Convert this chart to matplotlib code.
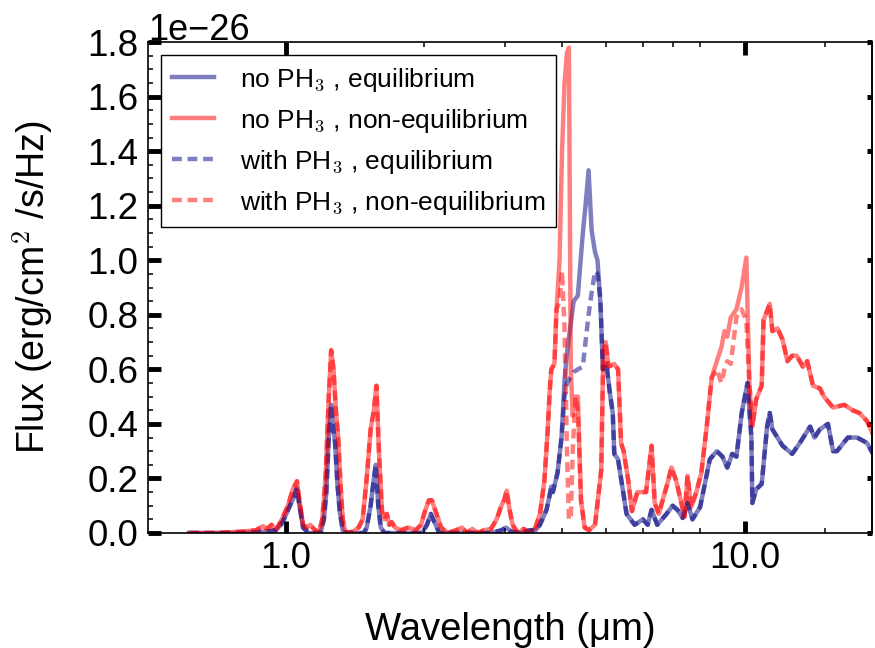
import matplotlib
matplotlib.use('Agg')
import matplotlib.pyplot as plt
import numpy as np
from matplotlib.ticker import FixedLocator, FormatStrFormatter, MultipleLocator, NullFormatter, NullLocator

plt.rcParams['font.family'] = ['Liberation Sans', 'DejaVu Sans']
plt.rcParams['mathtext.fontset'] = 'cm'

# wavelength grid (um) for the red (non-equilibrium) spectra
wl_red = [0.615, 0.70, 0.80, 0.86, 0.89, 0.91, 0.93, 0.95, 0.98, 1.01, 1.035, 1.057, 1.07, 1.09,
          1.11, 1.13, 1.15, 1.18, 1.20, 1.22, 1.24, 1.255, 1.27, 1.285, 1.30, 1.315, 1.33, 1.35,
          1.40, 1.44, 1.47, 1.50, 1.53, 1.555, 1.575, 1.595, 1.62, 1.64, 1.66, 1.68, 1.70, 1.73,
          1.78, 1.85, 1.92, 1.97, 2.01, 2.05, 2.08, 2.13, 2.18, 2.25, 2.35, 2.42, 2.48, 2.55,
          2.62, 2.70, 2.80, 2.88, 2.95, 2.99, 3.03, 3.07, 3.12, 3.20, 3.30, 3.40, 3.50, 3.58,
          3.66, 3.72, 3.76, 3.79, 3.85, 3.89, 3.95, 4.00, 4.05, 4.10, 4.14, 4.18, 4.22, 4.28,
          4.33, 4.40, 4.48, 4.58, 4.72, 4.87, 4.92, 4.98, 5.05, 5.20, 5.30, 5.38, 5.45, 5.58,
          5.68, 5.84, 6.10, 6.27, 6.37, 6.50, 6.76, 6.93, 7.10, 7.28, 7.40, 7.51, 7.65, 7.85,
          8.05, 8.27, 8.48, 8.70, 8.90, 9.04, 9.17, 9.33, 9.60, 9.85, 10.09, 10.25, 10.40, 10.60,
          10.90, 11.00, 11.35, 11.50, 11.80, 12.10, 12.40, 12.70, 13.00, 13.40, 13.70, 14.10,
          14.60, 14.90, 15.60, 16.50, 17.20, 17.80, 18.50, 19.20, 20.00]

# no PH3, non-equilibrium (units of 1e-26 erg/cm2/s/Hz)
flux_noph3_neq = [0.0, 0.0, 0.005, 0.01, 0.025, 0.015, 0.03, 0.01, 0.05, 0.10, 0.16, 0.19, 0.12, 0.03,
                  0.02, 0.03, 0.015, 0.0, 0.05, 0.20, 0.50, 0.67, 0.60, 0.45, 0.35, 0.18, 0.05, 0.0,
                  0.005, 0.02, 0.05, 0.20, 0.38, 0.45, 0.54, 0.30, 0.08, 0.05, 0.07, 0.03, 0.04, 0.02,
                  0.01, 0.02, 0.01, 0.03, 0.08, 0.12, 0.12, 0.07, 0.02, 0.0, 0.01, 0.02, 0.0, 0.015,
                  0.0, 0.01, 0.015, 0.05, 0.10, 0.12, 0.155, 0.09, 0.03, 0.0, 0.015, 0.0, 0.02, 0.07,
                  0.19, 0.37, 0.52, 0.60, 0.62, 0.82, 1.00, 1.40, 1.65, 1.76, 1.78, 0.60, 0.43, 0.50,
                  0.50, 0.12, 0.02, 0.01, 0.03, 0.23, 0.66, 0.70, 0.61, 0.62, 0.60, 0.33, 0.30, 0.19,
                  0.08, 0.15, 0.15, 0.32, 0.11, 0.07, 0.17, 0.24, 0.19, 0.11, 0.06, 0.21, 0.095, 0.15,
                  0.22, 0.39, 0.57, 0.63, 0.68, 0.74, 0.72, 0.79, 0.82, 0.90, 1.01, 0.54, 0.39, 0.49,
                  0.54, 0.78, 0.84, 0.74, 0.75, 0.71, 0.63, 0.65, 0.65, 0.61, 0.63, 0.54,
                  0.53, 0.50, 0.46, 0.47, 0.45, 0.44, 0.41, 0.35, 0.30]

# with PH3, non-equilibrium
flux_ph3_neq = [0.0, 0.0, 0.005, 0.01, 0.025, 0.015, 0.03, 0.01, 0.05, 0.10, 0.16, 0.19, 0.12, 0.03,
                0.02, 0.03, 0.015, 0.0, 0.05, 0.20, 0.50, 0.67, 0.60, 0.45, 0.35, 0.18, 0.05, 0.0,
                0.005, 0.02, 0.05, 0.20, 0.38, 0.45, 0.54, 0.30, 0.08, 0.05, 0.07, 0.03, 0.04, 0.02,
                0.01, 0.02, 0.01, 0.03, 0.08, 0.12, 0.12, 0.07, 0.02, 0.0, 0.01, 0.02, 0.0, 0.015,
                0.0, 0.01, 0.015, 0.05, 0.10, 0.12, 0.155, 0.09, 0.03, 0.0, 0.015, 0.0, 0.02, 0.07,
                0.19, 0.37, 0.52, 0.60, 0.62, 0.82, 0.85, 0.96, 0.75, 0.30, 0.05, 0.05, 0.30, 0.50,
                0.45, 0.12, 0.02, 0.01, 0.03, 0.23, 0.66, 0.70, 0.61, 0.62, 0.60, 0.33, 0.30, 0.19,
                0.08, 0.15, 0.15, 0.32, 0.11, 0.07, 0.17, 0.24, 0.19, 0.11, 0.06, 0.21, 0.095, 0.15,
                0.22, 0.39, 0.57, 0.60, 0.55, 0.60, 0.63, 0.62, 0.79, 0.82, 0.78, 0.54, 0.39, 0.49,
                0.54, 0.78, 0.84, 0.74, 0.75, 0.71, 0.63, 0.65, 0.65, 0.61, 0.63, 0.54,
                0.53, 0.50, 0.46, 0.47, 0.45, 0.44, 0.41, 0.35, 0.30]

# wavelength grid (um) for the blue (equilibrium) spectra
wl_blue = [0.615, 0.80, 0.90, 0.95, 0.975, 0.99, 1.02, 1.04, 1.057, 1.07, 1.09, 1.12, 1.19, 1.21,
           1.225, 1.24, 1.255, 1.265, 1.28, 1.295, 1.31, 1.33, 1.35, 1.48, 1.50, 1.53, 1.555, 1.57,
           1.59, 1.61, 1.64, 1.98, 2.03, 2.07, 2.12, 2.16, 2.80, 2.95, 3.02, 3.10, 3.25, 3.40,
           3.50, 3.58, 3.70, 3.75, 3.79, 3.82, 3.91, 3.99, 4.05, 4.10, 4.24, 4.33, 4.44, 4.50,
           4.57, 4.64, 4.72, 4.78, 4.85, 4.91, 5.00, 5.08, 5.16, 5.20, 5.30, 5.53, 5.76, 6.00,
           6.15, 6.27, 6.45, 6.76, 6.97, 7.14, 7.33, 7.51, 7.70, 8.00, 8.17, 8.40, 8.70, 8.95,
           9.17, 9.40, 9.60, 9.86, 10.15, 10.35, 10.40, 10.60, 10.90, 11.20, 11.35, 11.50, 12.10,
           12.70, 13.20, 13.90, 14.20, 14.60, 15.20, 15.60, 15.90, 16.80, 17.60, 18.50, 19.20, 20.00]

# no PH3, equilibrium
flux_noph3_eq = [0.0, 0.0, 0.005, 0.01, 0.03, 0.05, 0.10, 0.13, 0.165, 0.10, 0.02, 0.0, 0.0, 0.05,
                 0.15, 0.35, 0.47, 0.40, 0.33, 0.18, 0.08, 0.01, 0.0, 0.0, 0.02, 0.10, 0.20, 0.25,
                 0.10, 0.02, 0.0, 0.0, 0.03, 0.07, 0.03, 0.0, 0.0, 0.01, 0.02, 0.005, 0.0, 0.01,
                 0.01, 0.03, 0.085, 0.13, 0.17, 0.15, 0.22, 0.35, 0.56, 0.66, 0.85, 0.87, 1.10, 1.20,
                 1.33, 1.11, 1.03, 1.00, 0.84, 0.60, 0.62, 0.52, 0.44, 0.29, 0.27, 0.07, 0.03, 0.05,
                 0.03, 0.085, 0.03, 0.07, 0.10, 0.085, 0.055, 0.11, 0.05, 0.095, 0.17, 0.27, 0.30, 0.28,
                 0.24, 0.29, 0.28, 0.44, 0.55, 0.35, 0.11, 0.16, 0.18, 0.39, 0.44, 0.38, 0.32,
                 0.29, 0.33, 0.39, 0.35, 0.38, 0.40, 0.30, 0.30, 0.35, 0.35, 0.33, 0.28, 0.25]

# with PH3, equilibrium
flux_ph3_eq = [0.0, 0.0, 0.005, 0.01, 0.03, 0.05, 0.10, 0.13, 0.165, 0.10, 0.02, 0.0, 0.0, 0.05,
               0.15, 0.35, 0.47, 0.40, 0.33, 0.18, 0.08, 0.01, 0.0, 0.0, 0.02, 0.10, 0.20, 0.25,
               0.10, 0.02, 0.0, 0.0, 0.03, 0.07, 0.03, 0.0, 0.0, 0.01, 0.02, 0.005, 0.0, 0.01,
               0.01, 0.03, 0.085, 0.13, 0.17, 0.15, 0.22, 0.35, 0.50, 0.55, 0.59, 0.60, 0.61, 0.70,
               0.80, 0.88, 0.96, 0.95, 0.86, 0.60, 0.62, 0.52, 0.44, 0.29, 0.27, 0.07, 0.03, 0.05,
               0.03, 0.085, 0.03, 0.07, 0.10, 0.085, 0.055, 0.11, 0.05, 0.095, 0.17, 0.27, 0.30, 0.28,
               0.24, 0.29, 0.28, 0.44, 0.55, 0.35, 0.11, 0.16, 0.18, 0.39, 0.44, 0.38, 0.32,
               0.29, 0.33, 0.39, 0.35, 0.38, 0.40, 0.30, 0.30, 0.35, 0.35, 0.33, 0.28, 0.25]

scale = 1e-26

fig = plt.figure(figsize=(8.75, 6.48), dpi=100)
ax = fig.add_axes([0.169, 0.1775, 0.828, 0.7575])

ax.plot(wl_blue, np.array(flux_noph3_eq) * scale, color='navy', alpha=0.5, lw=3.2,
        label='no PH$_3$ , equilibrium')
ax.plot(wl_red, np.array(flux_noph3_neq) * scale, color='red', alpha=0.5, lw=3.2,
        label='no PH$_3$ , non-equilibrium')
ax.plot(wl_blue, np.array(flux_ph3_eq) * scale, color='navy', alpha=0.5, lw=3.2,
        ls='--', dashes=(2.2, 1.3), label='with PH$_3$ , equilibrium')
ax.plot(wl_red, np.array(flux_ph3_neq) * scale, color='red', alpha=0.5, lw=3.2,
        ls='--', dashes=(2.2, 1.3), label='with PH$_3$ , non-equilibrium')

ax.set_xscale('log')
ax.set_xlim(0.5, 19)
ax.set_ylim(0, 1.8e-26)

ax.xaxis.set_major_locator(FixedLocator([1.0, 10.0]))
ax.xaxis.set_major_formatter(FormatStrFormatter('%.1f'))
ax.xaxis.set_minor_locator(FixedLocator([2, 3, 4, 5, 6, 7, 8, 15]))
ax.xaxis.set_minor_formatter(NullFormatter())
ax.yaxis.set_major_locator(MultipleLocator(0.2e-26))
ax.yaxis.set_minor_locator(MultipleLocator(0.05e-26))

ax.tick_params(which='major', direction='in', length=9, width=3.5, labelsize=26.5)
ax.tick_params(which='minor', direction='in', length=3.5, width=1.1)
ax.tick_params(axis='x', which='both', top=True, pad=6)
ax.tick_params(axis='y', which='major', pad=7)
ax.yaxis.OFFSETTEXTPAD = 1.5
ax.yaxis.get_offset_text().set_fontsize(26)
ax.yaxis.get_offset_text().set_verticalalignment('baseline')
for sp in ax.spines.values():
    sp.set_linewidth(1.2)

# short square ticks on the right side
sec = ax.secondary_yaxis('right')
sec.yaxis.set_major_locator(MultipleLocator(0.2e-26))
sec.yaxis.set_major_formatter(NullFormatter())
sec.yaxis.set_minor_locator(NullLocator())
sec.tick_params(direction='in', length=3.6, width=3.6)
sec.spines['right'].set_linewidth(1.2)

ax.set_xlabel('Wavelength (μm)', fontsize=27.5, labelpad=26)
ax.set_ylabel('Flux (erg/cm$^2$ /s/Hz)', fontsize=27, labelpad=23)

leg = ax.legend(loc='upper left', fontsize=19, fancybox=False, edgecolor='black',
                framealpha=1, handlelength=1.6, handletextpad=1.0, borderaxespad=0.5)
leg.get_frame().set_linewidth(1.0)

fig.savefig('out.png', dpi=100)
